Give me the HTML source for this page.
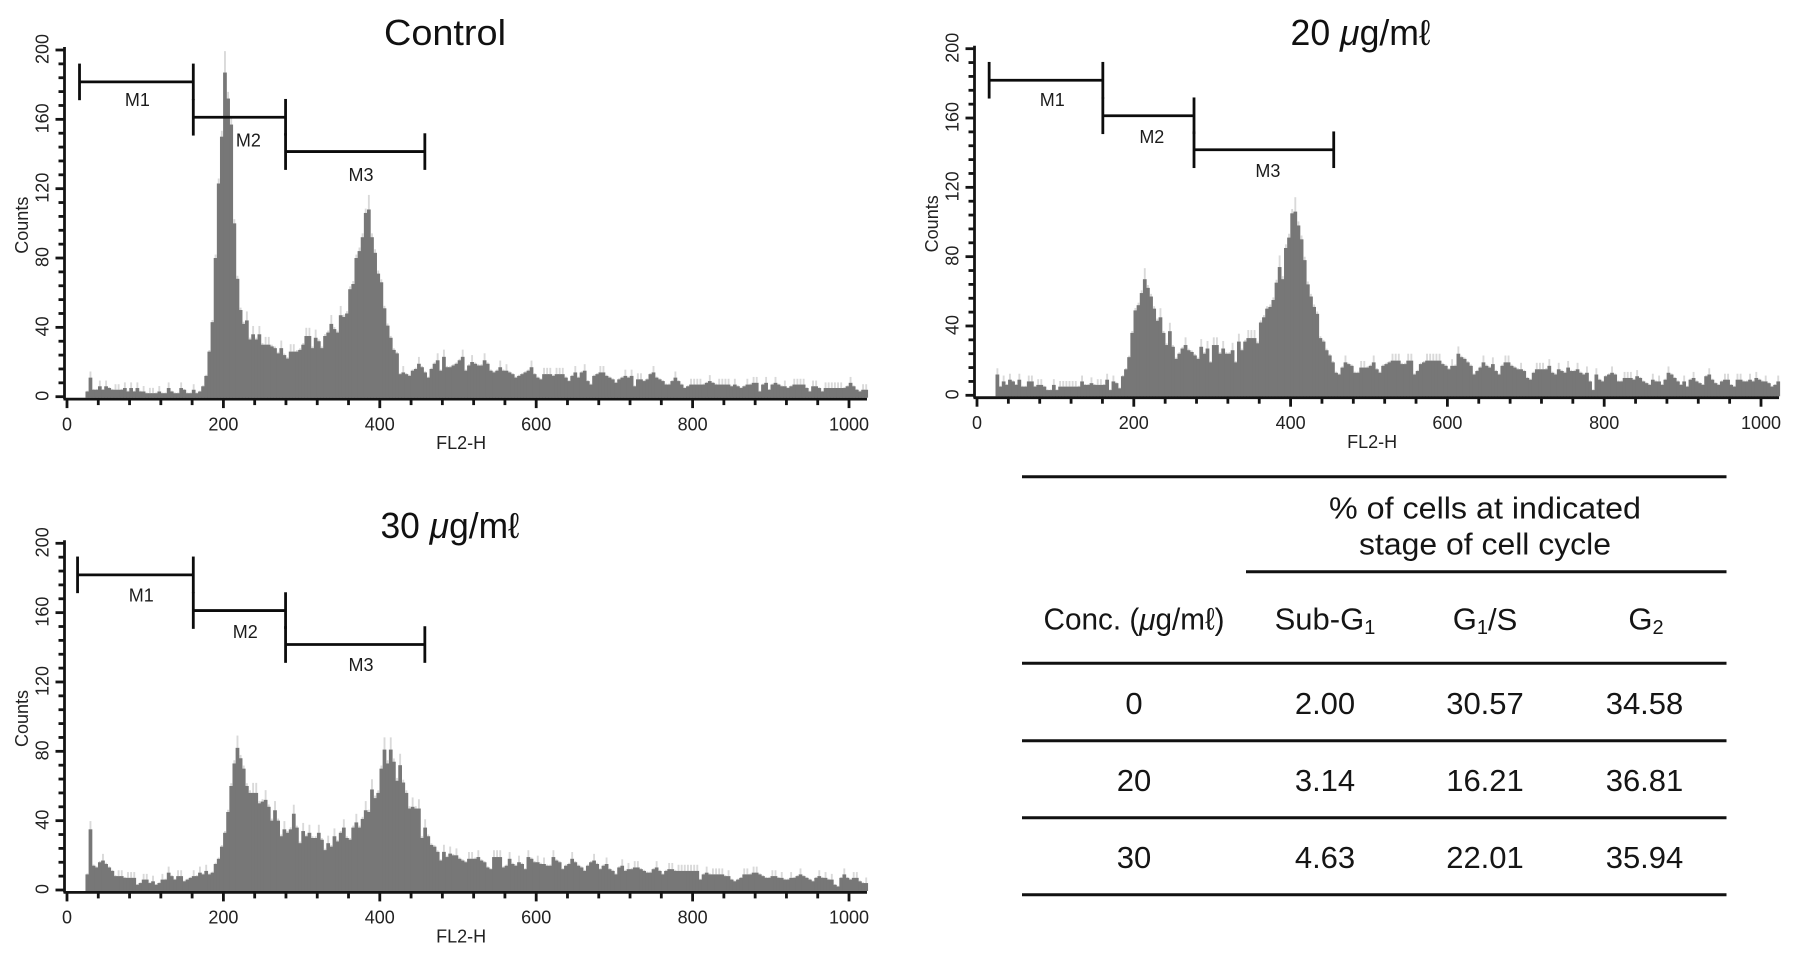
<!DOCTYPE html>
<html lang="en">
<head>
<meta charset="utf-8">
<title>Cell cycle flow cytometry histograms</title>
<style>
html,body{margin:0;padding:0;background:#fff;}
svg{display:block;}
text{font-family:"Liberation Sans","DejaVu Sans","Noto Sans CJK KR",sans-serif;}
.title{font-size:36px;fill:#111;text-anchor:middle;}
.cell{font-size:31px;fill:#151515;text-anchor:middle;dominant-baseline:central;}
.sub{font-size:20px;}
.rule{stroke:#111;stroke-width:3;}
</style>
</head>
<body>
<svg id="figure" xmlns="http://www.w3.org/2000/svg" width="1795" height="959" viewBox="0 0 1795 959">
  <rect x="0" y="0" width="1795" height="959" fill="#fff"/>

  <g id="panels"></g>

  <text class="title" x="445" y="45" textLength="122" lengthAdjust="spacingAndGlyphs">Control</text>
  <text class="title" x="1360.5" y="45" textLength="140" lengthAdjust="spacingAndGlyphs">20 <tspan font-style="italic">μ</tspan>g/mℓ</text>
  <text class="title" x="450" y="538" textLength="139" lengthAdjust="spacingAndGlyphs">30 <tspan font-style="italic">μ</tspan>g/mℓ</text>

  <g>
    <line class="rule" x1="1022" x2="1726.5" y1="476.7" y2="476.7"/>
    <line class="rule" x1="1246" x2="1726.5" y1="571.7" y2="571.7"/>
    <line class="rule" x1="1022" x2="1726.5" y1="663.3" y2="663.3"/>
    <line class="rule" x1="1022" x2="1726.5" y1="740.7" y2="740.7"/>
    <line class="rule" x1="1022" x2="1726.5" y1="817.7" y2="817.7"/>
    <line class="rule" x1="1022" x2="1726.5" y1="894.7" y2="894.7"/>

    <text class="cell" x="1485" y="508" textLength="312" lengthAdjust="spacingAndGlyphs">% of cells at indicated</text>
    <text class="cell" x="1485" y="544" textLength="252" lengthAdjust="spacingAndGlyphs">stage of cell cycle</text>

    <text class="cell" x="1134" y="619" textLength="181" lengthAdjust="spacingAndGlyphs">Conc. (<tspan font-style="italic">μ</tspan>g/mℓ)</text>
    <text class="cell" x="1325" y="619">Sub-G<tspan class="sub" dy="9">1</tspan></text>
    <text class="cell" x="1485" y="619">G<tspan class="sub" dy="9">1</tspan><tspan dy="-9">/S</tspan></text>
    <text class="cell" x="1646" y="619">G<tspan class="sub" dy="9">2</tspan></text>

    <text class="cell" x="1134" y="703.3">0</text>
    <text class="cell" x="1325" y="703.3">2.00</text>
    <text class="cell" x="1485" y="703.3">30.57</text>
    <text class="cell" x="1644.5" y="703.3">34.58</text>

    <text class="cell" x="1134" y="780.7">20</text>
    <text class="cell" x="1325" y="780.7">3.14</text>
    <text class="cell" x="1485" y="780.7">16.21</text>
    <text class="cell" x="1644.5" y="780.7">36.81</text>

    <text class="cell" x="1134" y="857.3">30</text>
    <text class="cell" x="1325" y="857.3">4.63</text>
    <text class="cell" x="1485" y="857.3">22.01</text>
    <text class="cell" x="1644.5" y="857.3">35.94</text>
  </g>
</svg>

<script>
// Bin width 4 channels; the first bin starts at channel 24.
const binStart = 24;
const binWidth = 4;

const controlCounts = [
3,11,4,4,6,4,6,5,4,4,4,4,5,3,5,3,5,3,3,2,2,2,2,3,2,2,5,3,2,2,5,4,2,2,4,2,3,6,12,26,
43,80,123,150,187,172,157,100,68,50,42,44,33,36,33,36,30,30,30,29,28,25,28,24,22,26,26,26,27,30,
35,35,28,34,32,28,35,37,42,39,37,47,46,48,62,65,80,84,92,106,108,92,83,71,66,51,41,34,27,25,
13,14,13,12,15,16,19,17,14,11,16,19,21,15,23,17,17,18,19,21,23,15,18,20,19,18,18,21,19,15,
14,15,17,15,15,14,13,11,12,13,14,15,17,13,11,10,13,13,13,12,13,13,13,11,9,12,14,11,14,15,
9,7,12,13,14,14,12,11,10,8,10,11,12,11,12,6,10,10,9,10,13,14,11,10,9,7,7,9,11,9,
7,5,6,7,7,7,7,7,8,9,8,7,7,7,7,7,6,7,6,5,6,7,7,8,8,3,7,8,4,7,
8,7,6,6,5,6,7,7,7,7,5,3,6,6,5,3,5,5,5,5,5,5,5,6,8,6,4,3,4,4];

const dose20Counts = [
12,5,8,6,9,8,6,9,5,5,8,8,5,6,6,5,3,3,6,3,5,5,5,5,5,5,5,8,6,6,7,6,6,6,6,9,3,8,7,4,
11,15,22,36,49,52,59,67,62,57,50,43,45,36,29,37,28,21,24,27,29,26,25,23,21,28,24,27,19,29,
29,24,27,24,24,26,19,31,26,31,33,33,33,30,42,45,50,51,55,65,74,67,85,91,105,106,98,90,78,64,
57,51,47,33,31,26,23,19,13,12,16,19,18,17,13,13,16,16,16,17,19,15,13,17,18,19,20,20,20,18,
18,20,20,12,14,18,19,20,20,20,20,20,18,17,15,17,17,24,22,21,19,17,12,14,16,19,17,16,18,14,
12,17,19,19,17,16,15,15,14,10,9,13,15,15,15,15,17,13,12,15,14,13,16,14,14,15,13,12,13,8,
3,12,9,8,11,12,13,12,8,8,10,10,10,9,11,10,8,7,6,9,8,8,6,9,13,12,10,8,6,8,
5,9,10,8,7,6,11,12,9,7,6,8,9,9,6,5,9,9,8,8,9,8,10,9,8,8,7,5,6,8];

const dose30Counts = [
9,35,14,13,16,17,15,13,11,8,8,8,7,7,7,7,3,4,6,6,4,5,3,4,6,6,10,8,6,8,8,5,6,7,8,8,10,9,11,9,
10,15,18,25,33,45,60,73,82,76,70,60,56,56,56,50,51,52,48,40,46,40,31,35,33,35,44,36,27,34,
31,33,30,30,33,29,23,27,25,31,28,33,36,30,29,36,39,36,41,46,45,58,53,56,70,81,73,81,74,63,
72,62,56,47,48,47,47,30,36,31,26,25,22,17,22,19,21,20,20,18,17,16,18,18,18,19,17,16,13,12,
19,19,19,13,14,18,15,14,16,15,12,19,18,16,16,15,15,14,14,19,17,16,12,14,15,18,16,14,13,11,
14,16,17,15,12,14,15,12,11,9,13,14,11,12,12,13,13,12,11,10,10,12,13,11,9,11,12,12,11,11,
11,11,11,11,11,11,6,9,10,9,9,9,9,9,8,8,6,5,6,7,9,9,9,10,10,9,8,7,7,8,
8,7,7,6,6,7,7,8,9,8,7,6,5,7,8,7,7,6,6,3,2,7,9,7,6,7,7,5,4,4];

const xTickLabels = [0,200,400,600,800,1000];
const yTickLabels = [0,40,80,120,160,200];
const gateNames = ["M1","M2","M3"];
const controlGateEdges = [16,161.5,279.5,457.6];
const dose20GateEdges = [15.5,160.5,276.8,455];
const dose30GateEdges = [13.5,161.5,279.5,457.6];
const controlGateLevels = [181.6,161.2,141.4];
const dose20GateLevels = [181.8,161.3,141.7];
const dose30GateLevels = [181.8,161.2,141.6];
const controlLabelChannels = [90,232,376];
const controlLabelCounts = [171.2,147.7,128];
const dose20LabelChannels = [96,223,371];
const dose20LabelCounts = [170.4,149,129.4];
const dose30LabelChannels = [95,228,376];
const dose30LabelCounts = [170,148.7,129.8];

const NS = "http://www.w3.org/2000/svg";
const root = document.getElementById("panels");

function make(parent, tag, attrs, text) {
  const el = document.createElementNS(NS, tag);
  for (const k in attrs) el.setAttribute(k, attrs[k]);
  if (text !== undefined) el.textContent = text;
  parent.appendChild(el);
  return el;
}

function drawPanel(key, layout, counts, gateEdges, gateLevels, labelChannels, labelCounts) {
  const xScale = ch => layout.x0 + layout.pxPerChannel * ch;
  const yScale = c => layout.y0 - layout.pxPerCount * c;
  const barW = layout.pxPerChannel * binWidth;
  const axisY = layout.y0 + 2.4;
  const axisX = layout.x0 - 2.5;
  const ink = "#141414";

  const g = make(root, "g", {});
  
  

  const halo = make(g, "g", { fill: "#d9d9d9" });
  
  
  const bars = make(g, "g", { fill: "#777777" });
  
  

  counts.forEach((v, i) => {
    const prev = i > 0 ? counts[i - 1] : 0;
    const next = i < counts.length - 1 ? counts[i + 1] : 0;
    const isLocalPeak = v >= prev && v >= next;
    const hv = isLocalPeak ? v * 1.05 + 3 : v * 1.02 + 0.4;
    const ch = binStart + binWidth * i;
    const haloRect = make(halo, "rect", {
      x: xScale(ch) + barW * 0.2, y: yScale(hv), width: barW * 0.6, height: layout.y0 - yScale(hv)
    });
    
    
  });
  counts.forEach((v, i) => {
    const ch = binStart + binWidth * i;
    const bar = make(bars, "rect", {
      x: xScale(ch) - 0.3, y: yScale(v), width: barW + 0.6, height: layout.y0 + 1 - yScale(v)
    });
    
    
  });

  const axes = make(g, "g", { stroke: ink, "stroke-width": 2.8 });
  
  

  const xAxis = make(axes, "line", { x1: axisX - 1, x2: xScale(1023), y1: axisY, y2: axisY });
  
  
  const yAxis = make(axes, "line", { x1: axisX, x2: axisX, y1: yScale(200) - 3, y2: axisY });
  
  

  for (let ch = 0; ch <= 1000; ch += 40) {
    const major = ch % 200 === 0;
    const t = make(axes, "line", { x1: xScale(ch), x2: xScale(ch), y1: axisY, y2: axisY + (major ? 9 : 6) });
    
    
  }
  for (let c = 0; c <= 200; c += 8) {
    const major = c % 40 === 0;
    const t = make(axes, "line", { x1: axisX - (major ? 9 : 6), x2: axisX, y1: yScale(c), y2: yScale(c) });
    
    
  }

  xTickLabels.forEach(v => {
    const t = make(g, "text", {
      x: xScale(v), y: layout.y0 + 27.6, "font-size": 18, fill: "#222",
      "text-anchor": "middle", "dominant-baseline": "central"
    }, String(v));
    
    
  });
  yTickLabels.forEach(v => {
    const yy = yScale(v), xx = layout.x0 - 24.3;
    const t = make(g, "text", {
      x: xx, y: yy - 1, "font-size": 18, fill: "#222", "text-anchor": "middle",
      "dominant-baseline": "central", transform: "rotate(-90 " + xx + " " + (yy - 1) + ")"
    }, String(v));
    
    
  });

  const xTitle = make(g, "text", {
    x: xScale(504), y: layout.y0 + 46.5, "font-size": 18, fill: "#222",
    "text-anchor": "middle", "dominant-baseline": "central"
  }, "FL2-H");
  
  

  const cx = layout.x0 - 45, cy = layout.y0 - 171.5;
  const yTitle = make(g, "text", {
    x: cx, y: cy, "font-size": 18, fill: "#222", "text-anchor": "middle",
    "dominant-baseline": "central", transform: "rotate(-90 " + cx + " " + cy + ")"
  }, "Counts");
  
  

  gateNames.forEach((name, i) => {
    const gate = make(g, "g", { stroke: "#0c0c0c", "stroke-width": 2.8 });
    
    
    const y = yScale(gateLevels[i]);
    const a = xScale(gateEdges[i]), b = xScale(gateEdges[i + 1]);
    make(gate, "line", { x1: a, x2: b, y1: y, y2: y });
    make(gate, "line", { x1: a, x2: a, y1: y - 18.3, y2: y + 18.3 });
    make(gate, "line", { x1: b, x2: b, y1: y - 18.3, y2: y + 18.3 });
    const lab = make(g, "text", {
      x: xScale(labelChannels[i]), y: yScale(labelCounts[i]), "font-size": 18, fill: "#1c1c1c",
      "text-anchor": "middle", "dominant-baseline": "central"
    }, name);
    
    
  });
}

drawPanel("control", { x0: 67, pxPerChannel: 0.782, y0: 396.7, pxPerCount: 1.7335 },
  controlCounts, controlGateEdges, controlGateLevels, controlLabelChannels, controlLabelCounts);
drawPanel("dose-20", { x0: 977, pxPerChannel: 0.784, y0: 395.3, pxPerCount: 1.733 },
  dose20Counts, dose20GateEdges, dose20GateLevels, dose20LabelChannels, dose20LabelCounts);
drawPanel("dose-30", { x0: 67, pxPerChannel: 0.782, y0: 890, pxPerCount: 1.7335 },
  dose30Counts, dose30GateEdges, dose30GateLevels, dose30LabelChannels, dose30LabelCounts);
</script>
</body>
</html>
